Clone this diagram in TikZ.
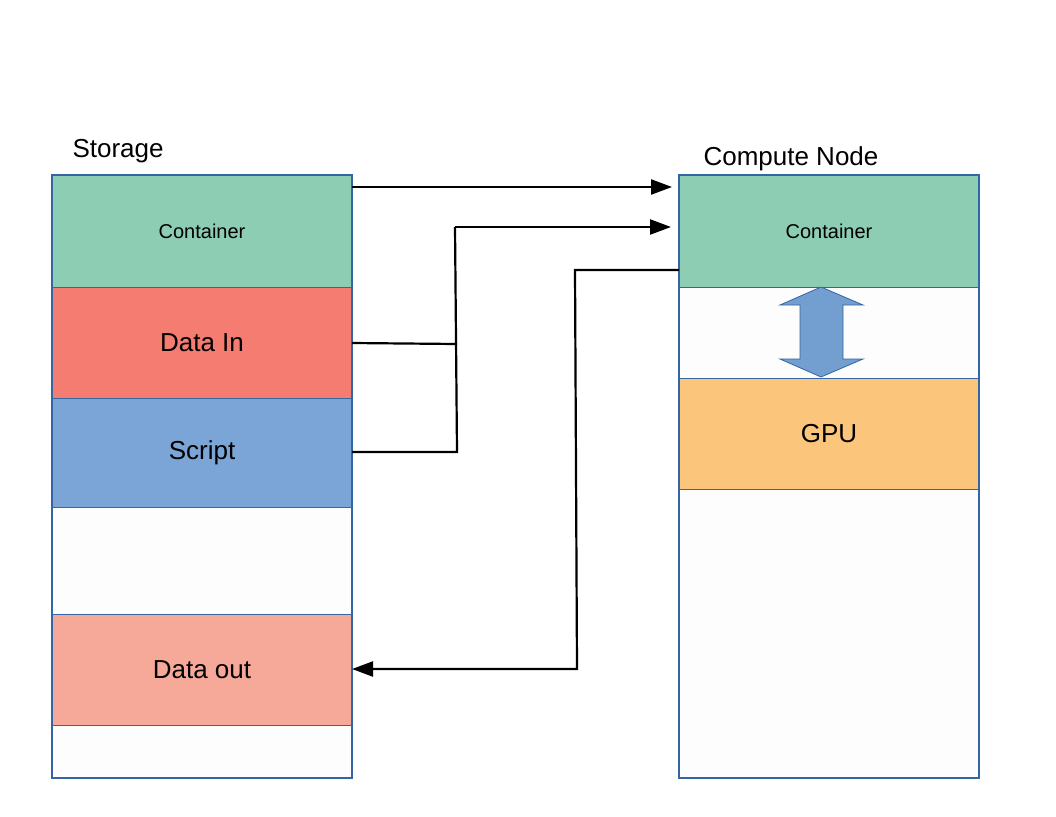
\documentclass[tikz,border=0pt]{standalone}
\usepackage{fontspec}
\setmainfont{Liberation Sans}
\usetikzlibrary{arrows.meta,calc}
\definecolor{bordc}{HTML}{3465A4}
\definecolor{greenc}{HTML}{8CCDB4}
\definecolor{redc}{HTML}{F47C70}
\definecolor{bluec}{HTML}{7BA5D7}
\definecolor{salmc}{HTML}{F6A998}
\definecolor{orangec}{HTML}{FBC57B}
\definecolor{arrc}{HTML}{729FCF}
\definecolor{whitec}{HTML}{FDFDFD}
\tikzset{
  seg/.style={draw=bordc, line width=0.8pt, minimum width=300pt, inner sep=0pt, outer sep=0pt},
  bigtext/.style={font=\fontsize{26}{30}\selectfont},
  smalltext/.style={font=\fontsize{20}{24}\selectfont},
  outerbox/.style={draw=bordc, line width=2.8pt},
  conn/.style={line width=2.2pt, black},
  tip/.style={-{Triangle[length=21pt,width=15pt]}},
}
\begin{document}
\begin{tikzpicture}[x=1pt,y=-1pt]
\useasboundingbox (0,0) rectangle (1056,816);
% Storage column
\node[seg, fill=greenc, minimum height=112pt, smalltext] (lcont) at (202,231) {Container};
\node[seg, fill=redc, minimum height=111pt, bigtext] (ldin) at (202,342.5) {Data In};
\node[seg, fill=bluec, minimum height=109pt, bigtext] (lscript) at (202,452.5) {Script};
\node[seg, fill=whitec, minimum height=107pt] (lempty) at (202,560.5) {};
\node[seg, fill=salmc, minimum height=111pt, bigtext] (ldout) at (202,669.5) {Data out};
\node[seg, fill=whitec, minimum height=53pt] (lbot) at (202,751.5) {};
\draw[outerbox] (lcont.north west) rectangle (lbot.south east);
\node[bigtext, anchor=west] (storage) at (69,151) {Storage};
% Compute node column
\node[seg, fill=greenc, minimum height=112pt, smalltext] (rcont) at (829,231) {Container};
\node[seg, fill=whitec, minimum height=91pt] (rempty) at (829,332.5) {};
\node[seg, fill=orangec, minimum height=111pt, bigtext] (gpu) at (829,433.5) {GPU};
\node[seg, fill=whitec, minimum height=289pt] (rbot) at (829,633.5) {};
\draw[outerbox] (rcont.north west) rectangle (rbot.south east);
\node[bigtext, anchor=west] (compute) at (700,159) {Compute Node};
% double arrow
\draw[draw=bordc, fill=arrc, line width=0.8pt]
  (821,287) -- (863,305) -- (843,305) -- (843,359) -- (863,359) -- (821,377)
  -- (780,359) -- (800,359) -- (800,305) -- (780,305) -- cycle;
% connectors
\coordinate (j1) at (457,344);
\coordinate (j2) at (457,452);
\coordinate (j3) at (455,227);
\coordinate (k1) at (575,270);
\coordinate (k2) at (577,669);
\draw[conn, tip, shorten >=7pt] (lcont.east |- 0,187) -- (rcont.west |- 0,187);
\draw[conn] (ldin.east |- 0,343) -- (j1);
\draw[conn] (lscript.east |- j2) -- (j2) -- (j3);
\draw[conn, tip, shorten >=8pt] (j3) -- (rcont.west |- j3);
\draw[conn, tip] (rcont.west |- k1) -- (k1) -- (k2) -- (ldout.east |- k2);
\end{tikzpicture}
\end{document}
